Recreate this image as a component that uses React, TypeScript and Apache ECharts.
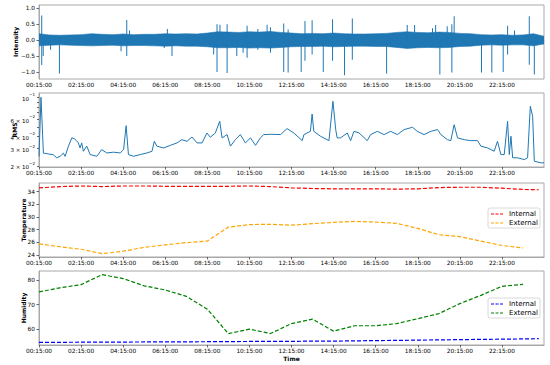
import React, { useEffect, useRef } from 'react';
import * as echarts from 'echarts';

// ---------- shared time axis (hours after 00:15:00) ----------
const tickHours = [0, 2, 4, 6, 8, 10, 12, 14, 16, 18, 20, 22];
const tickLabels = ['00:15:00', '02:15:00', '04:15:00', '06:15:00', '08:15:00', '10:15:00', '12:15:00', '14:15:00', '16:15:00', '18:15:00', '20:15:00', '22:15:00'];

// ---------- panel 1: Intensity (noise band envelope + spikes) ----------
const envHours = [0, 0.5, 1, 1.5, 2, 2.5, 3, 3.5, 4, 4.5, 5, 5.5, 6, 6.5, 7, 7.5, 8, 8.5, 9, 9.5, 10, 10.5, 11, 11.5, 12, 12.5, 13, 13.5, 14, 14.5, 15, 15.5, 16, 16.5, 17, 17.5, 18, 18.5, 19, 19.5, 20, 20.5, 21, 21.5, 22, 22.5, 23, 23.5, 24];
const envUpper = [0.2, 0.16, 0.15, 0.16, 0.17, 0.2, 0.18, 0.17, 0.19, 0.17, 0.18, 0.18, 0.2, 0.19, 0.2, 0.19, 0.22, 0.26, 0.25, 0.24, 0.26, 0.25, 0.27, 0.24, 0.22, 0.2, 0.21, 0.2, 0.22, 0.2, 0.19, 0.19, 0.2, 0.21, 0.24, 0.26, 0.24, 0.23, 0.25, 0.24, 0.21, 0.2, 0.17, 0.16, 0.17, 0.15, 0.16, 0.2, 0.12];
const envLower = [-0.18, -0.16, -0.15, -0.16, -0.17, -0.18, -0.17, -0.16, -0.18, -0.17, -0.17, -0.18, -0.19, -0.18, -0.19, -0.19, -0.21, -0.24, -0.24, -0.23, -0.25, -0.24, -0.25, -0.23, -0.21, -0.2, -0.2, -0.19, -0.21, -0.2, -0.19, -0.19, -0.2, -0.2, -0.23, -0.26, -0.24, -0.23, -0.24, -0.23, -0.2, -0.19, -0.16, -0.15, -0.16, -0.15, -0.15, -0.18, -0.12];
const spikeHours = [0.13, 0.13, 0.2, 0.55, 0.97, 3.9, 4.17, 4.17, 4.3, 5.95, 6.1, 6.32, 8.3, 8.46, 8.46, 8.6, 8.94, 8.94, 9.4, 9.7, 9.89, 9.89, 10.4, 10.4, 10.84, 11.0, 11.0, 11.63, 11.63, 11.84, 11.84, 12.46, 12.64, 12.64, 12.98, 12.98, 13.51, 13.95, 13.95, 14.52, 14.89, 14.89, 16.52, 17.5, 17.85, 18.7, 18.85, 19.05, 19.4, 19.62, 19.62, 19.73, 21.03, 21.52, 22.06, 22.27, 22.27, 22.6, 23.3, 23.3, 23.54];
const spikeValues = [0.77, -0.78, -0.5, -0.3, -1.05, -0.35, 0.63, -0.5, 0.3, -0.25, 0.35, -0.5, -0.45, 0.5, -1.0, 0.48, 0.5, -1.03, -0.5, -0.4, 0.45, -0.55, -0.3, 0.35, 0.48, -0.4, 0.4, 0.52, -1.0, -1.02, 0.33, -1.0, 0.6, -0.65, 0.62, -0.45, -1.0, 0.65, -0.65, -1.1, 0.68, -0.62, -1.05, 0.47, 0.47, 0.37, 0.47, -1.08, 0.43, -1.02, 0.5, 0.75, -1.02, -1.02, -1.0, 0.45, -0.45, 0.3, 0.75, -0.77, -1.08];
const intensityTicks = [-1, -0.5, 0, 0.5, 1];

// ---------- panel 2: RMS (log scale) ----------
const rmsHours = [0, 0.095, 0.21, 0.44, 0.68, 0.84, 1.0, 1.16, 1.24, 1.4, 1.56, 1.67, 1.79, 1.87, 1.95, 2.03, 2.11, 2.27, 2.43, 2.75, 2.98, 3.22, 3.54, 3.86, 4.02, 4.14, 4.25, 4.49, 4.81, 5.13, 5.37, 5.48, 5.6, 5.92, 6.24, 6.56, 6.79, 7.03, 7.27, 7.51, 7.75, 7.98, 8.14, 8.38, 8.59, 8.7, 8.94, 9.1, 9.33, 9.57, 9.81, 10.05, 10.29, 10.52, 10.68, 11.0, 11.48, 11.79, 12.11, 12.51, 12.59, 12.9, 12.98, 13.06, 13.38, 13.78, 13.97, 14.1, 14.17, 14.33, 14.65, 14.81, 14.97, 15.21, 15.6, 15.76, 16.08, 16.4, 16.71, 17.03, 17.35, 17.75, 17.98, 18.3, 18.62, 18.94, 19.1, 19.41, 19.57, 19.73, 19.89, 20.21, 20.52, 20.84, 21.0, 21.32, 21.63, 21.79, 21.95, 22.11, 22.27, 22.35, 22.43, 22.51, 22.75, 23.06, 23.22, 23.35, 23.46, 23.54, 23.86, 24];
const rmsValues = [0.025, 0.1, 0.027, 0.0265, 0.026, 0.0242, 0.025, 0.027, 0.025, 0.0318, 0.0386, 0.038, 0.036, 0.0343, 0.0305, 0.0343, 0.0282, 0.0318, 0.0261, 0.0251, 0.0293, 0.0271, 0.0276, 0.0271, 0.0293, 0.0514, 0.0261, 0.0251, 0.0261, 0.0271, 0.0282, 0.0356, 0.0318, 0.0305, 0.0324, 0.0343, 0.037, 0.0356, 0.0394, 0.0343, 0.0343, 0.0433, 0.0392, 0.0433, 0.057, 0.0386, 0.0417, 0.0318, 0.037, 0.0417, 0.0343, 0.0386, 0.0324, 0.0386, 0.0417, 0.042, 0.0417, 0.048, 0.0433, 0.0362, 0.0417, 0.045, 0.0676, 0.045, 0.0401, 0.0362, 0.091, 0.0469, 0.0386, 0.0386, 0.0433, 0.0362, 0.045, 0.0433, 0.0362, 0.0417, 0.045, 0.0417, 0.045, 0.0417, 0.0469, 0.0495, 0.045, 0.0417, 0.045, 0.0469, 0.0417, 0.037, 0.0362, 0.0526, 0.0386, 0.037, 0.0362, 0.0362, 0.0318, 0.0305, 0.0282, 0.0356, 0.0261, 0.0261, 0.057, 0.0261, 0.0401, 0.0242, 0.0242, 0.0232, 0.0242, 0.081, 0.064, 0.0223, 0.0215, 0.0215];
const rmsTickValues = [0.02, 0.03, 0.04, 0.05, 0.06, 0.07, 0.08, 0.09, 0.1];
const rmsLabelValues = [0.02, 0.03, 0.04, 0.06, 0.1];
const rmsLabelMant = ['2 × 10', '3 × 10', '4 × 10', '6 × 10', '10'];
const rmsLabelExp = ['−2', '−2', '−2', '−2', '−1'];

// ---------- panel 3: Temperature ----------
const hourly = [0, 1, 2, 3, 4, 5, 6, 7, 8, 9, 10, 11, 12, 13, 14, 15, 16, 17, 18, 19, 20, 21, 22, 23];
const internalHours = [0, 1, 2, 3, 4, 5, 6, 7, 8, 9, 10, 11, 12, 13, 14, 15, 16, 17, 18, 19, 20, 21, 22, 23, 23.75];
const tempInternal = [34.6, 34.8, 34.9, 34.8, 34.9, 34.9, 34.85, 34.85, 34.85, 34.85, 34.9, 34.8, 34.6, 34.5, 34.45, 34.45, 34.45, 34.4, 34.45, 34.65, 34.7, 34.7, 34.55, 34.35, 34.3];
const tempExternal = [25.75, 25.3, 24.9, 24.2, 24.6, 25.2, 25.6, 25.95, 26.2, 28.4, 28.8, 28.85, 28.7, 28.95, 29.15, 29.3, 29.2, 29.0, 28.2, 27.2, 26.9, 26.2, 25.5, 25.1];
const tempTicks = [24, 26, 28, 30, 32, 34];

// ---------- panel 4: Humidity ----------
const humInternal = [54.5, 54.5, 54.55, 54.6, 54.6, 54.65, 54.7, 54.7, 54.75, 54.8, 54.85, 54.9, 54.9, 55.0, 55.0, 55.1, 55.2, 55.3, 55.4, 55.5, 55.6, 55.7, 55.8, 55.9, 56.0];
const humExternal = [75.2, 76.9, 78.2, 82.3, 80.7, 77.7, 76.0, 73.4, 68.1, 58.1, 59.9, 58.1, 62.2, 64.0, 59.1, 61.3, 61.3, 62.2, 64.2, 66.3, 70.4, 73.8, 77.5, 78.3];
const humTicks = [60, 70, 80];

const legendNames = ['Internal', 'External'];

const FONT = 'DejaVu Sans';
const BLUE = '#1f77b4';

const pair = (xs: number[], ys: number[]) => xs.map((x, i) => [x, ys[i]]);

export default function App() {
  const ref = useRef<HTMLDivElement>(null);
  useEffect(() => {
    if (!ref.current) return;
    const chart = echarts.init(ref.current, undefined, { renderer: 'svg' });
    const tops = [5, 93, 183, 271];
    const grids = tops.map((t) => ({
      left: 39, right: 6, top: t, height: 74, show: true,
      borderColor: '#a8a8a8', borderWidth: 1, backgroundColor: 'transparent',
    }));
    const xAxes = tops.map((_, gi) => ({
      type: 'value', gridIndex: gi, min: 0, max: 24,
      name: gi === 3 ? 'Time' : '', nameLocation: 'middle', nameGap: 10, nameMoveOverlap: false,
      nameTextStyle: { fontFamily: FONT, fontSize: 6, fontWeight: 'bold', color: '#000', verticalAlign: 'top' },
      axisLine: { show: true, lineStyle: { color: '#a8a8a8', width: 1 } },
      splitLine: { show: false },
      axisTick: { show: true, length: 2.5, customValues: tickHours, lineStyle: { color: '#444', width: 0.8 } },
      axisLabel: {
        customValues: tickHours, margin: 2.5, fontFamily: FONT, fontSize: 5.8, color: '#000',
        formatter: (v: number) => { const i = tickHours.findIndex((h) => Math.abs(h - v) < 1e-6); return i >= 0 ? tickLabels[i] : ''; },
      },
    }));
    const yBase = (gi: number, name: string, gap: number) => ({
      gridIndex: gi, name, nameLocation: 'middle', nameGap: gap, nameMoveOverlap: false,
      nameTextStyle: { fontFamily: FONT, fontSize: 6, fontWeight: 'bold', color: '#000' },
      axisLine: { show: true, lineStyle: { color: '#a8a8a8', width: 1 } },
      splitLine: { show: false },
    });
    const yAxes: any[] = [
      {
        ...yBase(0, 'Intensity', 21), type: 'value', min: -1.22, max: 1.1,
        axisTick: { show: true, length: 2.5, customValues: intensityTicks, lineStyle: { color: '#444', width: 0.8 } },
        axisLabel: { customValues: intensityTicks, margin: 4, fontFamily: FONT, fontSize: 5.8, color: '#000',
          formatter: (v: number) => (v < 0 ? '−' : '') + Math.abs(v).toFixed(1) },
      },
      {
        ...yBase(1, 'RMS', 22), type: 'log', logBase: 10, min: 0.0195, max: 0.1106,
        axisTick: { show: true, length: 2, customValues: rmsTickValues, lineStyle: { color: '#444', width: 0.8 } },
        axisLabel: { customValues: rmsLabelValues, margin: 4, fontFamily: FONT, fontSize: 5.5, color: '#000',
          formatter: (v: number) => {
            const i = rmsLabelValues.findIndex((x) => Math.abs(x - v) < 1e-6);
            return i >= 0 ? `{m|${rmsLabelMant[i]}}{e|${rmsLabelExp[i]}}` : '';
          },
          rich: {
            m: { fontFamily: FONT, fontSize: 5.5, color: '#000', lineHeight: 9, verticalAlign: 'bottom' },
            e: { fontFamily: FONT, fontSize: 4, color: '#000', lineHeight: 9, verticalAlign: 'top' },
          },
        },
      },
      {
        ...yBase(2, 'Temperature', 13), type: 'value', min: 23.68, max: 35.37,
        axisTick: { show: true, length: 2.5, customValues: tempTicks, lineStyle: { color: '#444', width: 0.8 } },
        axisLabel: { customValues: tempTicks, margin: 4, fontFamily: FONT, fontSize: 5.8, color: '#000' },
      },
      {
        ...yBase(3, 'Humidity', 13), type: 'value', min: 53.4, max: 83.8,
        axisTick: { show: true, length: 2.5, customValues: humTicks, lineStyle: { color: '#444', width: 0.8 } },
        axisLabel: { customValues: humTicks, margin: 4, fontFamily: FONT, fontSize: 5.8, color: '#000' },
      },
    ];
    const dashed = (color: string) => ({ color, width: 1.2, type: [4, 2] as any });
    const legendBox = (y: number, c1: string, c2: string) => ({
      type: 'group',
      children: [
        { type: 'rect', shape: { x: 488, y, width: 52, height: 20, r: 2 }, style: { fill: 'rgba(255,255,255,0.85)', stroke: '#d0d0d0', lineWidth: 0.8 } },
        { type: 'line', shape: { x1: 491, y1: y + 6, x2: 503, y2: y + 6 }, style: { stroke: c1, lineWidth: 1.2, lineDash: [3, 1.5] } },
        { type: 'text', x: 509, y: y + 6, style: { text: legendNames[0], fontFamily: FONT, fontSize: 7, fill: '#000', verticalAlign: 'middle' } },
        { type: 'line', shape: { x1: 491, y1: y + 15, x2: 503, y2: y + 15 }, style: { stroke: c2, lineWidth: 1.2, lineDash: [3, 1.5] } },
        { type: 'text', x: 509, y: y + 15, style: { text: legendNames[1], fontFamily: FONT, fontSize: 7, fill: '#000', verticalAlign: 'middle' } },
      ],
    });
    chart.setOption({
      animation: false,
      backgroundColor: '#fff',
      grid: grids,
      xAxis: xAxes,
      yAxis: yAxes,
      series: [
        { type: 'line', xAxisIndex: 0, yAxisIndex: 0, data: pair(envHours, envUpper), showSymbol: false, lineStyle: { color: BLUE, width: 0.6 }, areaStyle: { color: BLUE, opacity: 1 } },
        { type: 'line', xAxisIndex: 0, yAxisIndex: 0, data: pair(envHours, envLower), showSymbol: false, lineStyle: { color: BLUE, width: 0.6 }, areaStyle: { color: BLUE, opacity: 1 } },
        { type: 'bar', xAxisIndex: 0, yAxisIndex: 0, data: pair(spikeHours, spikeValues), barWidth: 1, itemStyle: { color: BLUE }, z: 3 },
        { type: 'line', xAxisIndex: 1, yAxisIndex: 1, data: pair(rmsHours, rmsValues), showSymbol: false, lineStyle: { color: BLUE, width: 1 } },
        { type: 'line', name: 'Internal', xAxisIndex: 2, yAxisIndex: 2, data: pair(internalHours, tempInternal), showSymbol: false, lineStyle: dashed('#ff0000') },
        { type: 'line', name: 'External', xAxisIndex: 2, yAxisIndex: 2, data: pair(hourly, tempExternal), showSymbol: false, lineStyle: dashed('#ffa500') },
        { type: 'line', name: 'Internal', xAxisIndex: 3, yAxisIndex: 3, data: pair(internalHours, humInternal), showSymbol: false, lineStyle: dashed('#0000ff') },
        { type: 'line', name: 'External', xAxisIndex: 3, yAxisIndex: 3, data: pair(hourly, humExternal), showSymbol: false, lineStyle: dashed('#008000') },
      ],
      graphic: [legendBox(208, '#ff0000', '#ffa500'), legendBox(298, '#0000ff', '#008000')],
    });
    return () => chart.dispose();
  }, []);
  return <div ref={ref} style={{ position: 'fixed', left: 0, top: 0, width: 550, height: 365 }} />;
}
